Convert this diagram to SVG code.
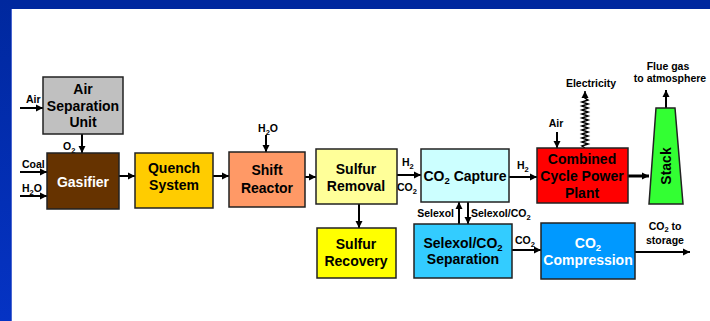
<svg xmlns="http://www.w3.org/2000/svg" width="710" height="321" viewBox="0 0 710 321">
<defs>
<linearGradient id="lb" x1="0" y1="0" x2="0" y2="1"><stop offset="0" stop-color="#00289E"/><stop offset="1" stop-color="#0533C4"/></linearGradient>
<marker id="ah" markerWidth="8" markerHeight="8" refX="7" refY="4" orient="auto" markerUnits="userSpaceOnUse"><path d="M0,0.5 L7,4 L0,7.5 Z" fill="#000"/></marker>
</defs>
<style>
.box{stroke:#222;stroke-width:1.5}
.t{font-family:"Liberation Sans",Arial,sans-serif;font-weight:bold;font-size:14px;text-anchor:middle;fill:#000}
.w{fill:#fff}
.s{font-family:"Liberation Sans",Arial,sans-serif;font-weight:bold;font-size:10.5px;fill:#000}
.m{text-anchor:middle}
.e{text-anchor:end}
.c{stroke:#000;stroke-width:2;fill:none;marker-end:url(#ah)}
.sb{font-size:7.5px}
.sn{font-size:9.5px}
</style>
<rect x="0" y="0" width="710" height="321" fill="#fff"/>
<rect x="0" y="0" width="710" height="9" fill="#00289E"/>
<rect x="0" y="0" width="11" height="321" fill="url(#lb)"/>
<rect x="11" y="9" width="1" height="312" fill="#4A66D0"/>

<g id="connectors">
<path class="c" d="M20,108 H43"/>
<path class="c" d="M82,134 V153"/>
<path class="c" d="M20,172 H47"/>
<path class="c" d="M20,196 H47"/>
<path class="c" d="M119,176 H135"/>
<path class="c" d="M213,176 H229"/>
<path class="c" d="M266,135 V152"/>
<path class="c" d="M305,177 H316"/>
<path class="c" d="M397,175 H421"/>
<path class="c" d="M359,204 V228"/>
<path class="c" d="M509,177 H537"/>
<path class="c" d="M459,224 V202"/>
<path class="c" d="M468,202 V224"/>
<path class="c" d="M512,250 H541"/>
<path class="c" d="M635,252 H690"/>
<path class="c" d="M557,132 V148"/>
<polyline class="c" style="stroke-width:1.5" points="585,148 582,146 588,144 582,142 588,140 582,138 588,136 582,134 588,132 582,130 588,128 582,126 588,124 582,122 588,120 582,118 588,116 582,114 588,112 582,110 588,108 582,106 588,104 582,102 588,100 585,98 585,91"/>
<path class="c" style="stroke-width:3" d="M628,176 H649"/>
<path class="c" d="M666,108 V90"/>
</g>

<g id="labels">
<text class="s" x="26" y="103">Air</text>
<text class="s" x="63" y="150">O<tspan class="sb" dy="3">2</tspan></text>
<text class="s" x="22" y="168">Coal</text>
<text class="s" x="22" y="192">H<tspan class="sb" dy="3">2</tspan><tspan dy="-3">O</tspan></text>
<text class="s m" x="268" y="132">H<tspan class="sb" dy="3">2</tspan><tspan dy="-3">O</tspan></text>
<text class="s" x="402" y="166">H<tspan class="sb" dy="3">2</tspan></text>
<text class="s" x="397" y="191">CO<tspan class="sb" dy="3">2</tspan></text>
<text class="s" x="517" y="169">H<tspan class="sb" dy="3">2</tspan></text>
<text class="s e" x="454" y="217">Selexol</text>
<text class="s" x="471" y="217">Selexol/CO<tspan class="sb" dy="3">2</tspan></text>
<text class="s" x="515" y="244">CO<tspan class="sb" dy="3">2</tspan></text>
<text class="s m" x="665" y="230">CO<tspan class="sb" dy="2">2</tspan><tspan dy="-2"> to</tspan></text>
<text class="s m" x="665" y="244">storage</text>
<text class="s m" x="556" y="127">Air</text>
<text class="s m" x="591" y="87">Electricity</text>
<text class="s m" x="668" y="70">Flue gas</text>
<text class="s m" x="670" y="82">to atmosphere</text>
</g>

<g id="asu"><rect class="box" x="43" y="77" width="80" height="57" fill="#C0C0C0"/>
<text class="t" x="83" y="94">Air</text><text class="t" x="83" y="111">Separation</text><text class="t" x="83" y="127">Unit</text></g>
<g id="gasifier"><rect class="box" x="47" y="153" width="72" height="56" fill="#663300"/>
<text class="t w" x="83" y="187">Gasifier</text></g>
<g id="quench"><rect class="box" x="135" y="153" width="78" height="55" fill="#FFCC00"/>
<text class="t" x="174" y="173">Quench</text><text class="t" x="174" y="190">System</text></g>
<g id="shift"><rect class="box" x="229" y="152" width="76" height="55" fill="#FF9966"/>
<text class="t" x="267" y="175">Shift</text><text class="t" x="267" y="193">Reactor</text></g>
<g id="sulfur-removal"><rect class="box" x="316" y="149" width="81" height="55" fill="#FFFF99"/>
<text class="t" x="356" y="174">Sulfur</text><text class="t" x="356" y="191">Removal</text></g>
<g id="sulfur-recovery"><rect class="box" x="317" y="228" width="79" height="50" fill="#FFFF00"/>
<text class="t" x="356" y="249">Sulfur</text><text class="t" x="356" y="266">Recovery</text></g>
<g id="co2-capture"><rect class="box" x="421" y="149" width="88" height="53" fill="#CCFFFF"/>
<text class="t" x="465" y="181">CO<tspan class="sn" dy="3">2</tspan><tspan dy="-3"> Capture</tspan></text></g>
<g id="selexol-sep"><rect class="box" x="414" y="224" width="98" height="54" fill="#33CCFF"/>
<text class="t" x="463" y="248">Selexol/CO<tspan class="sn" dy="3">2</tspan></text><text class="t" x="463" y="264">Separation</text></g>
<g id="co2-compression"><rect class="box" x="541" y="223" width="94" height="56" fill="#0099FF"/>
<text class="t w" x="588" y="248">CO<tspan class="sn" dy="3">2</tspan></text><text class="t w" x="588" y="265">Compression</text></g>
<g id="ccpp"><rect class="box" x="537" y="148" width="91" height="55" fill="#FF0000"/>
<text class="t" x="582" y="164">Combined</text><text class="t" x="582" y="181">Cycle Power</text><text class="t" x="582" y="198">Plant</text></g>
<g id="stack"><polygon class="box" points="656,108 675,108 683,204 649,204" fill="#33FF33"/>
<text class="t" transform="translate(671,166) rotate(-90)">Stack</text></g>
</svg>
